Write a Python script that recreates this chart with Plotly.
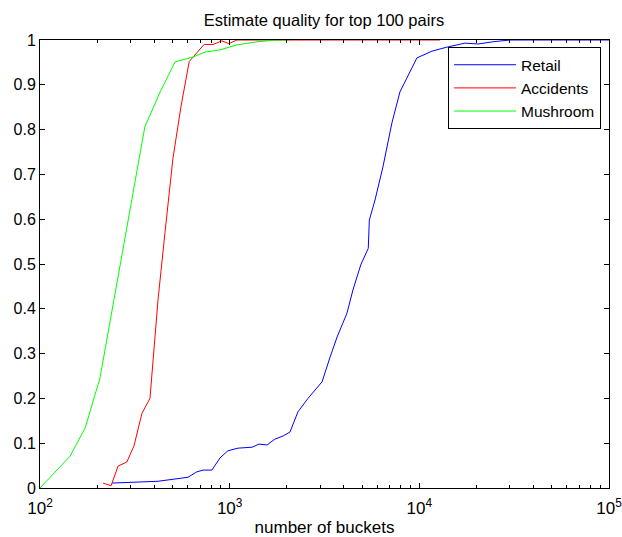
import plotly.graph_objects as go

retail_x = [240, 419, 603, 671, 725, 806, 889, 978, 1107, 1313, 1429, 1574, 1730, 1912, 2080,
            2291, 2588, 3070, 3383, 3684, 4153, 4467, 4910, 5380, 5450, 5840, 6430, 7170, 7900,
            9710, 11650, 13970, 17380, 20400, 24400, 30000, 50000, 100000]
retail_y = [0.011, 0.015, 0.024, 0.036, 0.040, 0.040, 0.067, 0.083, 0.089, 0.091, 0.098, 0.096,
            0.109, 0.116, 0.125, 0.170, 0.200, 0.237, 0.292, 0.337, 0.390, 0.442, 0.498, 0.535,
            0.598, 0.643, 0.717, 0.815, 0.884, 0.960, 0.975, 0.984, 0.993, 0.991, 0.996, 1.0, 1.0, 1.0]

acc_x = [215, 237, 258, 287, 313, 345, 380, 399, 419, 456, 502, 553, 612, 733, 817, 910, 990,
         1091, 2000, 5000, 12850]
acc_y = [0.011, 0.005, 0.049, 0.058, 0.094, 0.167, 0.200, 0.310, 0.420, 0.570, 0.735, 0.850,
         0.952, 0.990, 0.990, 0.998, 0.992, 1.0, 1.0, 1.0, 1.0]

mush_x = [100, 144, 173, 207, 357, 430, 515, 641, 741, 889, 1091, 1393, 1780, 2080]
mush_y = [0.0, 0.071, 0.134, 0.245, 0.806, 0.884, 0.951, 0.962, 0.973, 0.978, 0.989, 0.996,
          1.0, 1.0]

x_tickvals = [100, 1000, 10000, 100000]
x_ticktext = ["10<sup>2</sup>", "10<sup>3</sup>", "10<sup>4</sup>", "10<sup>5</sup>"]
y_tickvals = [0, 0.1, 0.2, 0.3, 0.4, 0.5, 0.6, 0.7, 0.8, 0.9, 1.0]
y_ticktext = ["0", "0.1", "0.2", "0.3", "0.4", "0.5", "0.6", "0.7", "0.8", "0.9", "1"]

FONT = "Liberation Sans, Arial, Helvetica, sans-serif"

fig = go.Figure()
fig.add_trace(go.Scatter(x=retail_x, y=retail_y, mode="lines", name="Retail",
                         line=dict(color="#0000ff", width=1)))
fig.add_trace(go.Scatter(x=acc_x, y=acc_y, mode="lines", name="Accidents",
                         line=dict(color="#ff0000", width=1)))
fig.add_trace(go.Scatter(x=mush_x, y=mush_y, mode="lines", name="Mushroom",
                         line=dict(color="#00ff00", width=1)))

fig.update_layout(
    width=622, height=537,
    margin=dict(l=40, r=13, t=40, b=49),
    paper_bgcolor="white", plot_bgcolor="white",
    font=dict(family=FONT, size=16, color="black"),
    title=dict(text="Estimate quality for top 100 pairs", x=(324) / 622, xanchor="center",
               y=1 - 20 / 537, yanchor="middle", font=dict(size=16.5, family=FONT)),
    showlegend=True,
    legend=dict(x=0.986, xanchor="right", y=0.984, yanchor="top",
                bordercolor="black", borderwidth=1, bgcolor="white",
                font=dict(size=15.5, family=FONT), tracegroupgap=0, itemwidth=62),
    xaxis=dict(type="log", range=[2, 5], tickvals=x_tickvals, ticktext=x_ticktext,
               ticks="inside", ticklen=5, tickcolor="black", showline=True,
               linecolor="black", linewidth=1, mirror="ticks", showgrid=False,
               zeroline=False, automargin=False, ticklabelstandoff=5,
               ticklabeloverflow="allow",
               tickfont=dict(size=17),
               minor=dict(ticks="inside", ticklen=3, tickcolor="black", dtick="D1",
                          showgrid=False),
               title=dict(text="number of buckets", font=dict(size=17), standoff=4)),
    yaxis=dict(range=[0, 1], tickvals=y_tickvals, ticktext=y_ticktext,
               ticks="inside", ticklen=5, tickcolor="black", showline=True,
               linecolor="black", linewidth=1, mirror="ticks", showgrid=False,
               zeroline=False, automargin=False, tickfont=dict(size=16),
               ticklabeloverflow="allow"),
)

fig.write_html("out.html")
